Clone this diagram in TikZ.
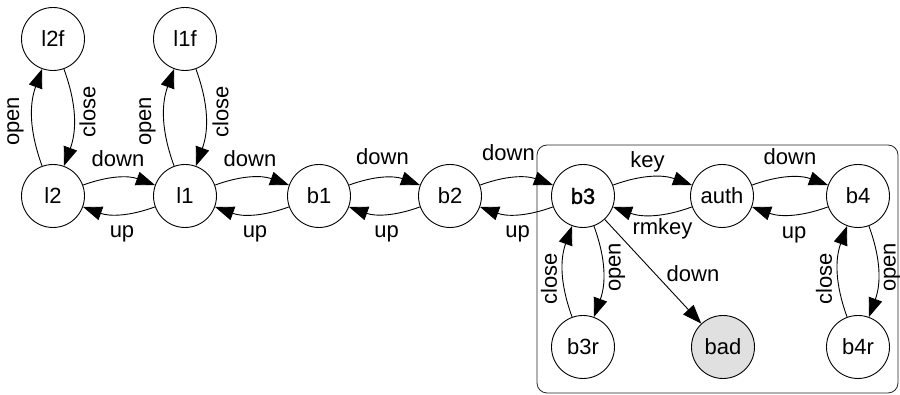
\documentclass[tikz,border=0pt]{standalone}
\usepackage{fontspec}
\setmainfont{Liberation Sans}
\newfontfamily\semibold[FakeBold=1.5]{Liberation Sans}
\usetikzlibrary{arrows.meta}
\definecolor{badfill}{HTML}{E0E0E0}
\begin{document}
\begin{tikzpicture}[x=1pt,y=1pt,
  state/.style={circle,draw,line width=0.9pt,minimum size=63pt,inner sep=0pt,font=\fontsize{22}{26}\selectfont},
  edge/.style={line width=0.9pt,-{Triangle[length=19pt,width=14pt]}},
  lbl/.style={font=\fontsize{22}{26}\selectfont,inner sep=0pt,anchor=center,pos=0.5},
  vlbl/.style={lbl,rotate=90},
  every to/.style={bend left=20}]
\useasboundingbox (0,0) rectangle (900,395);
% cluster
\draw[line width=0.8pt,black!85,rounded corners=10pt] (537,2) rectangle (898,250);
% nodes
\node[state] (l2f) at (53,356) {l2f};
\node[state] (l1f) at (185,356) {l1f};
\node[state] (l2) at (53,199) {l2};
\node[state] (l1) at (185,199) {l1};
\node[state] (b1) at (319,199) {b1};
\node[state] (b2) at (450,199) {b2};
\node[state,font=\fontsize{22}{26}\semibold] (b3) at (583,199) {b3};
\node[state] (auth) at (722,199) {auth};
\node[state] (b4) at (858,199) {b4};
\node[state] (b3r) at (583,48) {b3r};
\node[state,fill=badfill] (bad) at (723,48) {bad};
\node[state] (b4r) at (858,48) {b4r};
% horizontal edges
\draw[edge] (l2) to node[lbl,xshift=-1pt,yshift=19pt] {down} (l1);
\draw[edge] (l1) to node[lbl,xshift=3pt,yshift=-20pt] {up} (l2);
\draw[edge] (l1) to node[lbl,xshift=-2pt,yshift=19pt] {down} (b1);
\draw[edge] (b1) to node[lbl,xshift=3pt,yshift=-20pt] {up} (l1);
\draw[edge] (b1) to node[lbl,xshift=-2pt,yshift=21pt] {down} (b2);
\draw[edge] (b2) to node[lbl,xshift=2pt,yshift=-20pt] {up} (b1);
\draw[edge] (b2) to node[lbl,xshift=-8pt,yshift=25pt] {down} (b3);
\draw[edge] (b3) to node[lbl,xshift=1pt,yshift=-20pt] {up} (b2);
\draw[edge] (b3) to node[lbl,xshift=-5pt,yshift=15pt] {key} (auth);
\draw[edge] (auth) to node[lbl,xshift=10pt,yshift=-14pt] {rmkey} (b3);
\draw[edge] (auth) to node[lbl,xshift=0pt,yshift=21pt] {down} (b4);
\draw[edge] (b4) to node[lbl,xshift=4pt,yshift=-20pt] {up} (auth);
% vertical edges
\draw[edge] (l2) to node[xshift=-17pt,yshift=-4pt,vlbl] {open} (l2f);
\draw[edge] (l2f) to node[xshift=14pt,yshift=6pt,vlbl] {close} (l2);
\draw[edge] (l1) to node[xshift=-17pt,yshift=-4pt,vlbl] {open} (l1f);
\draw[edge] (l1f) to node[xshift=15pt,yshift=6pt,vlbl] {close} (l1);
\draw[edge] (b3r) to node[xshift=-14pt,yshift=-7pt,vlbl] {close} (b3);
\draw[edge] (b3) to node[xshift=14pt,yshift=4pt,vlbl] {open} (b3r);
\draw[edge] (b4r) to node[xshift=-14pt,yshift=-7pt,vlbl] {close} (b4);
\draw[edge] (b4) to node[xshift=14pt,yshift=4pt,vlbl] {open} (b4r);
% diagonal
\draw[edge] (b3) -- node[lbl,xshift=40pt,yshift=-2pt] {down} (bad);
\end{tikzpicture}
\end{document}
